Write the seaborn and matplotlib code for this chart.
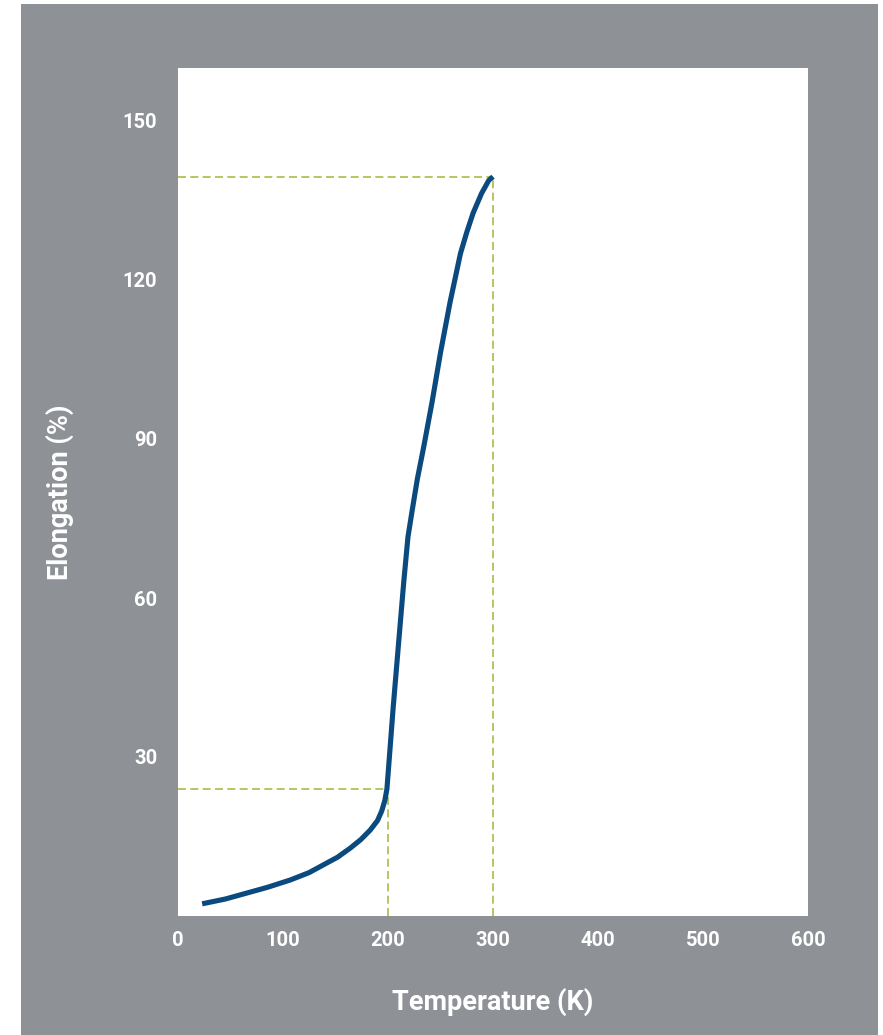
import matplotlib
matplotlib.use("Agg")
import matplotlib.pyplot as plt
import seaborn as sns
import pandas as pd
from matplotlib.patches import Rectangle

# values
temperature = [23, 45, 65, 85, 107, 125, 138, 152, 164, 174, 183, 190, 194,
               197, 199, 205, 210, 215, 219, 223, 228, 234, 242, 250, 259,
               269, 275, 281, 289, 296, 300]
elongation = [2.3, 3.2, 4.3, 5.4, 6.8, 8.2, 9.6, 11.1, 12.8, 14.4, 16.2, 18.0,
              19.8, 21.8, 24.0, 39.5, 51.3, 63.0, 71.5, 76.5, 82.5, 88.5, 97.0,
              106.3, 115.7, 125.0, 129.0, 132.6, 136.3, 138.8, 139.5]
guide_t = [200, 300]
guide_e = [24, 139.5]
x_ticks = [0, 100, 200, 300, 400, 500, 600]
y_ticks = [30, 60, 90, 120, 150]

df = pd.DataFrame({"Temperature": temperature, "Elongation": elongation})

sns.set_style("white")
plt.rcParams["font.family"] = ["Roboto", "DejaVu Sans"]

bg = "#8e9196"
line_col = "#0b4a7f"
guide_col = "#a6bf45"

fig = plt.figure(figsize=(8.83, 10.35), dpi=100)
fig.patch.set_facecolor("white")
fig.add_artist(Rectangle((21 / 883, 0), (878 - 21) / 883, 1 - 4 / 1035,
                         transform=fig.transFigure, facecolor=bg,
                         edgecolor="none", zorder=-10))

ax = fig.add_axes([178 / 883, 1 - 916 / 1035, (808 - 178) / 883, (916 - 68) / 1035])
ax.set_facecolor("white")

# dashed guide lines
dash = (0, (4.8, 2.6))
for t, e in zip(guide_t, guide_e):
    ax.hlines(e, 0, t, colors=guide_col, linestyles=dash, linewidth=1.2, zorder=1)
    ax.vlines(t, 0, e, colors=guide_col, linestyles=dash, linewidth=1.2, zorder=1)

sns.lineplot(data=df, x="Temperature", y="Elongation", ax=ax, color=line_col,
             linewidth=3.7, zorder=3, solid_capstyle="butt", solid_joinstyle="round")

ax.set_xlim(0, 600)
ax.set_ylim(0, 160)
ax.set_xticks(x_ticks)
ax.set_yticks(y_ticks)
for s in ax.spines.values():
    s.set_visible(False)
ax.tick_params(axis="both", length=0, colors="white", labelsize=14.5)
ax.tick_params(axis="x", pad=11)
ax.tick_params(axis="y", pad=15)
for lbl in ax.get_xticklabels() + ax.get_yticklabels():
    lbl.set_fontweight("bold")

ax.set_xlabel("Temperature (K)", color="white", fontsize=19.5, fontweight="bold", labelpad=27)
ax.set_ylabel("Elongation (%)", color="white", fontsize=19.5, fontweight="bold", labelpad=35)

fig.savefig("out.png", dpi=100, facecolor=fig.get_facecolor())
